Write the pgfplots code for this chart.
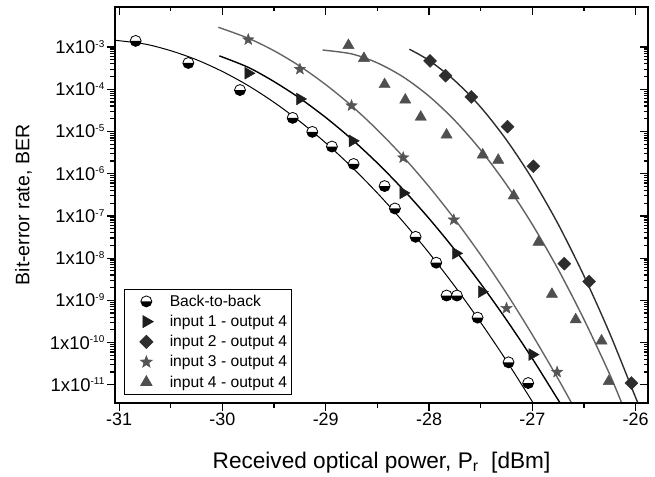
\documentclass[border=0pt]{standalone}
\usepackage{fontspec}
\setmainfont{Liberation Sans}
\usepackage{pgfplots}
\pgfplotsset{compat=1.18}
\usetikzlibrary{plotmarks}

\definecolor{cA}{HTML}{000000}
\definecolor{cB}{HTML}{1E1E1E}
\definecolor{cC}{HTML}{2E2E2E}
\definecolor{cD}{HTML}{555555}
\definecolor{cE}{HTML}{4F4F4F}
\newcommand\tl{\fontsize{18}{20}\selectfont}
\newcommand\ytl{\fontsize{18.5}{20}\selectfont}
\newcommand\ylab[1]{\ytl 1x10\textsuperscript{\fontsize{10}{11}\selectfont -#1}}

\pgfdeclareplotmark{fstar}{%
  \pgfpathmoveto{\pgfpointpolar{90}{\pgfplotmarksize}}%
  \pgfpathlineto{\pgfpointpolar{126}{0.42\pgfplotmarksize}}%
  \pgfpathlineto{\pgfpointpolar{162}{\pgfplotmarksize}}%
  \pgfpathlineto{\pgfpointpolar{198}{0.42\pgfplotmarksize}}%
  \pgfpathlineto{\pgfpointpolar{234}{\pgfplotmarksize}}%
  \pgfpathlineto{\pgfpointpolar{270}{0.42\pgfplotmarksize}}%
  \pgfpathlineto{\pgfpointpolar{306}{\pgfplotmarksize}}%
  \pgfpathlineto{\pgfpointpolar{342}{0.42\pgfplotmarksize}}%
  \pgfpathlineto{\pgfpointpolar{18}{\pgfplotmarksize}}%
  \pgfpathlineto{\pgfpointpolar{54}{0.42\pgfplotmarksize}}%
  \pgfpathclose
  \pgfusepathqfillstroke
}
\pgfdeclareplotmark{hcirc}{%
  \pgfpathcircle{\pgfpointorigin}{\pgfplotmarksize}%
  \pgfsetfillcolor{white}\pgfusepathqfill
  \pgfpathmoveto{\pgfqpoint{\pgfplotmarksize}{0pt}}%
  \pgfpatharc{0}{-180}{\pgfplotmarksize}%
  \pgfpathclose
  \pgfsetfillcolor{black}\pgfusepathqfill
  \pgfpathcircle{\pgfpointorigin}{\pgfplotmarksize}%
  \pgfusepathqstroke
}

\begin{document}
\begin{tikzpicture}
\useasboundingbox (-115bp,-74bp) rectangle (540bp,403bp);
\begin{axis}[
  scale only axis, width=533bp, height=396bp,
  xmin=-31.04, xmax=-25.88,
  ymode=log, ymin=3.7e-12, ymax=8.9e-3,
  xtick={-31,-30,-29,-28,-27,-26},
  minor xtick={-30.5,-29.5,-28.5,-27.5,-26.5},
  ytickten={-11,-10,-9,-8,-7,-6,-5,-4,-3},
  axis line style={line width=1.5bp},
  major tick length=8bp, minor tick length=4.5bp,
  every tick/.style={line width=1.2bp, black},
  xtick pos=left, ytick pos=left, tick align=outside,
  xticklabels={{\tl -31},{\tl -30},{\tl -29},{\tl -28},{\tl -27},{\tl -26}},
  yticklabels={{\ylab{11}},{\ylab{10}},{\ylab{9}},{\ylab{8}},{\ylab{7}},{\ylab{6}},{\ylab{5}},{\ylab{4}},{\ylab{3}}},
  xticklabel style={font=\tl, inner sep=2bp},
  yticklabel style={font=\ytl, inner sep=2bp},
  xlabel={Received optical power, P\textsubscript{r}~~[dBm]},
  ylabel={Bit-error rate, BER},
  xlabel style={font=\fontsize{22.7}{26}\selectfont, at={(axis description cs:0.5,0)}, anchor=base, yshift=-65bp},
  ylabel style={font=\fontsize{19.6}{24}\selectfont, at={(axis description cs:-0.1876,0.5)}, anchor=north, inner sep=0pt},
  legend style={at={(axis description cs:0.017,0.02)}, anchor=south west,
    draw=black, line width=0.8bp, font=\fontsize{15.7}{17}\selectfont,
    row sep=3.4bp, inner xsep=2.5bp, inner ysep=4bp},
  legend image code/.code={\path (-19bp,0bp) (21bp,0bp); \draw[mark repeat=2,mark phase=2,#1] plot coordinates {(-10bp,0bp)(0bp,0bp)(10bp,0bp)};},
  legend cell align=left,
]
% fitted curves
\addplot[cA, line width=1bp, smooth, forget plot] coordinates {
(-31.04,1.45e-3)(-30.75,1.18e-3)(-30.5,8.2e-4)(-30.25,5.0e-4)(-30,2.64e-4)(-29.75,1.22e-4)(-29.5,4.9e-5)(-29.25,1.73e-5)(-29,5.37e-6)(-28.75,1.46e-6)(-28.5,3.48e-7)(-28.25,7.26e-8)(-28,1.33e-8)(-27.75,2.14e-9)(-27.5,3.0e-10)(-27.25,3.7e-11)(-27.0,4e-12)(-26.97,3e-12)};
\addplot[cA, line width=1.4bp, smooth, forget plot] coordinates {
(-30.03,6.2e-4)(-29.75,3.31e-4)(-29.5,1.52e-4)(-29.25,6.12e-5)(-29,2.15e-5)(-28.75,6.64e-6)(-28.5,1.79e-6)(-28.25,4.22e-7)(-28,8.7e-8)(-27.75,1.57e-8)(-27.5,2.49e-9)(-27.25,3.45e-10)(-27,4.18e-11)(-26.75,4.4e-12)(-26.7,3e-12)};
\addplot[cC, line width=1.4bp, smooth, forget plot] coordinates {
(-28.19,8.9e-4)(-28,4.83e-4)(-27.75,1.6e-4)(-27.5,3.78e-5)(-27.25,6.3e-6)(-27,7.5e-7)(-26.75,6.4e-8)(-26.5,3.8e-9)(-26.25,1.64e-10)(-26,5e-12)(-25.96,3e-12)};
\addplot[cD!90!white, line width=1.4bp, smooth, forget plot] coordinates {
(-30.04,2.95e-3)(-29.75,1.62e-3)(-29.5,8.17e-4)(-29.25,3.52e-4)(-29,1.29e-4)(-28.75,4.07e-5)(-28.5,1.09e-5)(-28.25,2.52e-6)(-28,4.94e-7)(-27.75,8.3e-8)(-27.5,1.19e-8)(-27.25,1.47e-9)(-27,1.53e-10)(-26.75,1.38e-11)(-26.6,3e-12)};
\addplot[cE!90!white, line width=1.4bp, smooth, forget plot] coordinates {
(-29.03,8.5e-4)(-28.75,6.9e-4)(-28.5,4.22e-4)(-28.25,1.96e-4)(-28,6.87e-5)(-27.75,1.82e-5)(-27.5,3.64e-6)(-27.25,5.5e-7)(-27,6.28e-8)(-26.75,5.43e-9)(-26.5,3.54e-10)(-26.25,1.75e-11)(-26.12,3e-12)};
% data
\addplot[only marks, mark=hcirc, mark size=5.5bp, mark options={draw=black, line width=0.8bp}] coordinates {
(-30.84,1.4e-3)(-30.33,4.2e-4)(-29.83,9.6e-5)(-29.32,2.1e-5)(-29.13,9.8e-6)(-28.94,4.4e-6)(-28.73,1.7e-6)(-28.43,5.1e-7)(-28.33,1.5e-7)(-28.13,3.2e-8)(-27.93,7.8e-9)(-27.83,1.3e-9)(-27.73,1.3e-9)(-27.53,3.9e-10)(-27.23,3.4e-11)(-27.04,1.1e-11)};
\addlegendentry{Back-to-back}
\addplot[only marks, mark=triangle*, mark size=6.8bp, mark options={draw=cB, fill=cB, rotate=-90}] coordinates {
(-29.75,2.4e-4)(-29.25,5.9e-5)(-28.74,6e-6)(-28.25,3.5e-7)(-27.74,1.3e-8)(-27.49,1.6e-9)(-27.0,5.2e-11)};
\addlegendentry{input 1 - output 4}
\addplot[only marks, mark=square*, mark size=4.6bp, mark options={draw=cC, fill=cC, rotate=45}] coordinates {
(-27.99,4.7e-4)(-27.84,2.1e-4)(-27.59,6.6e-5)(-27.24,1.3e-5)(-26.99,1.5e-6)(-26.69,7.4e-9)(-26.45,2.8e-9)(-26.04,1.1e-11)};
\addlegendentry{input 2 - output 4}
\addplot[only marks, mark=fstar, mark size=6bp, mark options={draw=cD, fill=cD}] coordinates {
(-29.75,1.5e-3)(-29.25,3e-4)(-28.75,4.1e-5)(-28.25,2.4e-6)(-27.76,8.1e-8)(-27.25,6.5e-10)(-26.76,2e-11)};
\addlegendentry{input 3 - output 4}
\addplot[only marks, mark=triangle*, mark size=6.5bp, mark options={draw=cE, fill=cE}] coordinates {
(-28.78,1.1e-3)(-28.63,5.4e-4)(-28.43,1.3e-4)(-28.23,5.6e-5)(-28.08,2.2e-5)(-27.83,8.3e-6)(-27.48,2.8e-6)(-27.33,2.1e-6)(-27.18,3e-7)(-26.94,2.4e-8)(-26.81,1.4e-9)(-26.58,3.5e-10)(-26.33,1.1e-10)(-26.26,1.2e-11)};
\addlegendentry{input 4 - output 4}
\end{axis}
\begin{axis}[
  scale only axis, width=533bp, height=396bp,
  xmin=-31.04, xmax=-25.88,
  ymode=log, ymin=3.7e-12, ymax=8.9e-3,
  xtick={-31,-30,-29,-28,-27,-26},
  minor xtick={-30.5,-29.5,-28.5,-27.5,-26.5},
  ytickten={-11,-10,-9,-8,-7,-6,-5,-4,-3},
  axis line style={line width=1.5bp},
  major tick length=8bp, minor tick length=4.5bp,
  every tick/.style={line width=1.2bp, black},
  xtick pos=right, ytick pos=right, tick align=inside,
  xticklabels={}, yticklabels={},
]
\addplot[draw=none, forget plot] coordinates {(-30,1e-5)};
\end{axis}
\end{tikzpicture}
\end{document}
